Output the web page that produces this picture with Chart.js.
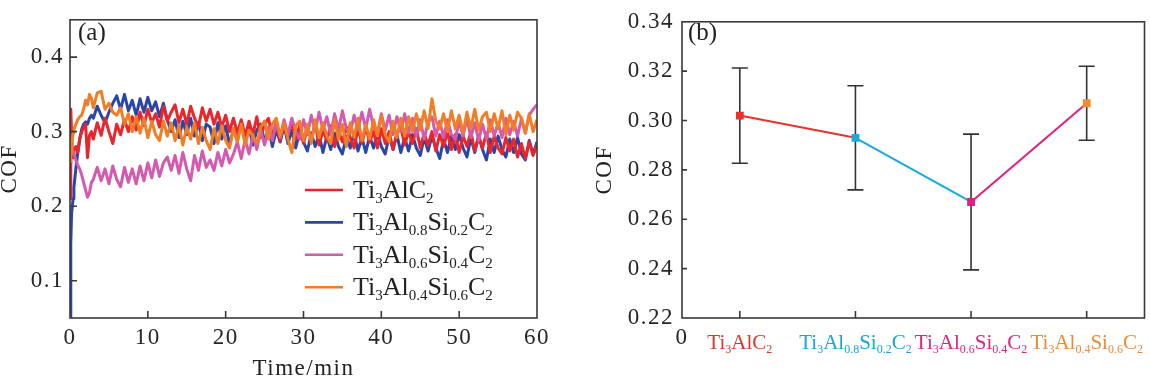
<!DOCTYPE html>
<html><head><meta charset="utf-8">
<script src="https://cdn.jsdelivr.net/npm/chart.js@4.4.1/dist/chart.umd.min.js"></script>
<style>
html,body{margin:0;padding:0;background:#fff;}
#wrap{position:relative;width:1150px;height:379px;overflow:hidden;background:#fff;}
#c1{position:absolute;left:0;top:0;}
#c2{position:absolute;left:575px;top:0;}
</style></head><body>
<div id="wrap"><canvas id="c1" width="575" height="379"></canvas><canvas id="c2" width="575" height="379"></canvas></div>
<script>
// ---------- (a) COF vs time ----------
const timeMin = [0,0.1,0.2,0.3,0.4,0.5,0.75,1,1.25,1.5,1.75,2,2.25,2.5,2.75,
 3,3.5,4,4.5,5,5.5,6,6.5,7,7.5,
 8,8.5,9,9.5,10,10.5,11,11.5,12,12.5,
 13,13.5,14,14.5,15,15.5,16,16.5,17,17.5,
 18,18.5,19,19.5,20,20.5,21,21.5,22,22.5,
 23,23.5,24,24.5,25,25.5,26,26.5,27,27.5,
 28,28.5,29,29.5,30,30.5,31,31.5,32,32.5,
 33,33.5,34,34.5,35,35.5,36,36.5,37,37.5,
 38,38.5,39,39.5,40,40.5,41,41.5,42,42.5,
 43,43.5,44,44.5,45,45.5,46,46.5,47,47.5,
 48,48.5,49,49.5,50,50.5,51,51.5,52,52.5,
 53,53.5,54,54.5,55,55.5,56,56.5,57,57.5,
 58,58.5,59,59.5,60];

const cofTi3AlC2 = [0.21,0.33,0.30,0.27,0.265,0.275,0.28,0.272,0.29,0.30,0.305,0.31,0.265,0.295,0.30,
 0.290,0.312,0.295,0.318,0.300,0.284,0.310,0.296,0.316,0.300,
 0.320,0.302,0.326,0.308,0.330,0.312,0.324,0.306,0.334,0.314,
 0.326,0.336,0.312,0.330,0.310,0.334,0.318,0.306,0.332,0.314,
 0.330,0.310,0.326,0.306,0.322,0.300,0.318,0.298,0.316,0.294,
 0.314,0.296,0.320,0.292,0.310,0.318,0.294,0.312,0.288,0.308,
 0.294,0.314,0.290,0.308,0.284,0.306,0.290,0.312,0.282,0.302,
 0.288,0.308,0.280,0.302,0.286,0.306,0.292,0.278,0.304,0.284,
 0.306,0.286,0.300,0.278,0.304,0.284,0.300,0.276,0.298,0.306,
 0.282,0.300,0.284,0.304,0.278,0.298,0.282,0.300,0.274,0.296,
 0.280,0.300,0.276,0.296,0.272,0.294,0.280,0.300,0.274,0.294,
 0.278,0.298,0.272,0.294,0.278,0.270,0.292,0.274,0.290,0.266,
 0.284,0.264,0.286,0.268,0.282];

const cofAl08Si02 = [0.05,0.15,0.19,0.20,0.21,0.225,0.25,0.272,0.29,0.303,0.31,0.313,0.31,0.318,0.322,
 0.318,0.334,0.322,0.312,0.326,0.338,0.348,0.330,0.350,0.328,
 0.342,0.322,0.344,0.326,0.346,0.328,0.340,0.320,0.338,0.316,
 0.300,0.316,0.292,0.314,0.296,0.318,0.294,0.312,0.288,0.310,
 0.306,0.284,0.312,0.290,0.308,0.282,0.304,0.288,0.312,0.290,
 0.306,0.282,0.302,0.310,0.286,0.304,0.280,0.302,0.286,0.308,
 0.284,0.302,0.278,0.300,0.286,0.274,0.298,0.280,0.296,0.272,
 0.294,0.276,0.298,0.280,0.270,0.294,0.278,0.298,0.274,0.292,
 0.272,0.294,0.278,0.298,0.280,0.270,0.294,0.276,0.296,0.272,
 0.292,0.274,0.296,0.278,0.268,0.292,0.274,0.294,0.278,0.264,
 0.290,0.272,0.294,0.276,0.296,0.278,0.266,0.292,0.272,0.294,
 0.276,0.262,0.290,0.272,0.294,0.276,0.266,0.290,0.272,0.292,
 0.270,0.262,0.288,0.270,0.286];

const cofAl06Si04 = [0.27,0.29,0.28,0.275,0.272,0.27,0.262,0.255,0.25,0.242,0.232,0.222,0.212,0.218,0.232,
 0.236,0.252,0.234,0.250,0.230,0.254,0.236,0.226,0.252,0.232,
 0.250,0.230,0.254,0.234,0.258,0.238,0.262,0.240,0.258,0.266,
 0.248,0.268,0.244,0.272,0.250,0.234,0.268,0.248,0.274,0.252,
 0.262,0.248,0.272,0.254,0.276,0.258,0.270,0.286,0.264,0.290,
 0.270,0.296,0.276,0.302,0.282,0.306,0.288,0.312,0.292,0.316,
 0.296,0.318,0.300,0.290,0.316,0.296,0.322,0.300,0.326,0.302,
 0.320,0.296,0.324,0.302,0.328,0.304,0.298,0.322,0.302,0.326,
 0.304,0.330,0.306,0.298,0.324,0.302,0.322,0.296,0.320,0.300,
 0.324,0.298,0.318,0.294,0.316,0.290,0.312,0.320,0.294,0.314,
 0.292,0.316,0.296,0.290,0.314,0.294,0.318,0.292,0.312,0.288,
 0.310,0.290,0.316,0.294,0.312,0.292,0.318,0.296,0.314,0.294,
 0.318,0.298,0.322,0.330,0.336];

const cofAl04Si06 = [0.26,0.285,0.27,0.29,0.298,0.303,0.31,0.316,0.32,0.322,0.33,0.342,0.336,0.35,0.345,
 0.332,0.352,0.354,0.330,0.338,0.326,0.322,0.332,0.310,0.324,
 0.300,0.320,0.298,0.318,0.292,0.314,0.296,0.288,0.314,0.294,
 0.312,0.288,0.308,0.282,0.306,0.290,0.312,0.284,0.306,0.288,
 0.276,0.304,0.284,0.308,0.288,0.278,0.304,0.286,0.310,0.282,
 0.302,0.294,0.284,0.306,0.314,0.290,0.310,0.318,0.294,0.312,
 0.290,0.272,0.308,0.314,0.288,0.310,0.284,0.316,0.292,0.312,
 0.294,0.284,0.316,0.290,0.310,0.280,0.312,0.292,0.318,0.288,
 0.310,0.290,0.316,0.294,0.322,0.296,0.286,0.314,0.292,0.318,
 0.294,0.320,0.300,0.324,0.302,0.328,0.304,0.344,0.314,0.304,
 0.324,0.300,0.328,0.304,0.322,0.298,0.326,0.304,0.330,0.302,
 0.320,0.326,0.300,0.324,0.304,0.328,0.296,0.322,0.302,0.326,
 0.318,0.298,0.324,0.300,0.316];

const seriesNames = ['Ti_{3}AlC_{2}','Ti_{3}Al_{0.8}Si_{0.2}C_{2}','Ti_{3}Al_{0.6}Si_{0.4}C_{2}','Ti_{3}Al_{0.4}Si_{0.6}C_{2}'];
const seriesValues = [cofTi3AlC2, cofAl08Si02, cofAl06Si04, cofAl04Si06];
const seriesColors = ['#e8262c','#2b46a8','#d35aae','#f27d24'];
const seriesDrawOrder = [2,3,1,0]; // lower = drawn on top
const leftXTicks = [0,10,20,30,40,50,60];
const leftYTicks = [0.1,0.2,0.3,0.4];

// ---------- (b) mean COF ----------
const categories = ['Ti_{3}AlC_{2}','Ti_{3}Al_{0.8}Si_{0.2}C_{2}','Ti_{3}Al_{0.6}Si_{0.4}C_{2}','Ti_{3}Al_{0.4}Si_{0.6}C_{2}'];
const cofMean = [0.302, 0.293, 0.267, 0.307];
const cofError = [0.0193, 0.0211, 0.0275, 0.0150];
const categoryColors = ['#e8332b','#1aa8e0','#e0207e','#f28a2e'];
const labelColors = ['#d9372c','#1ba4dc','#d6287c','#ec8b38'];
const rightYTicks = [0.22,0.24,0.26,0.28,0.30,0.32,0.34];
const rightXTicks = [0,0.5,1.5,2.5,3.5];

const SERIF = '"Liberation Serif","Times New Roman",serif';
const TICK_COLOR = '#262626';

function parseChem(s){
  const parts=[]; const re=/_\{([^}]*)\}/g; let last=0, m;
  while((m=re.exec(s))){ if(m.index>last) parts.push({t:s.slice(last,m.index),sub:false}); parts.push({t:m[1],sub:true}); last=re.lastIndex; }
  if(last<s.length) parts.push({t:s.slice(last),sub:false});
  return parts;
}
function drawChem(ctx, s, x, y, size, subSize, color, align){
  ctx.save();
  ctx.letterSpacing='0px';
  ctx.fillStyle=color; ctx.textBaseline='alphabetic'; ctx.textAlign='left';
  const parts=parseChem(s); let w=0;
  for(const p of parts){ ctx.font=(p.sub?subSize:size)+'px '+SERIF; p.w=ctx.measureText(p.t).width; w+=p.w; }
  let cx = align==='center' ? x-w/2 : x;
  for(const p of parts){ ctx.font=(p.sub?subSize:size)+'px '+SERIF; ctx.fillText(p.t, cx, p.sub ? y+subSize*0.32 : y); cx+=p.w; }
  ctx.restore();
}
function boxAndTicks(chart, xt, yt, lenX, lenY){
  const {ctx, chartArea:a, scales:{x,y}} = chart;
  ctx.save();
  ctx.strokeStyle='#3a3a3a'; ctx.lineWidth=1.6;
  ctx.strokeRect(a.left, a.top, a.right-a.left, a.bottom-a.top);
  ctx.beginPath();
  for(const v of yt){ const py=y.getPixelForValue(v); if(py>a.top+2 && py<a.bottom-2){ ctx.moveTo(a.left,py); ctx.lineTo(a.left+lenY,py);} }
  for(const v of xt){ const px=x.getPixelForValue(v); if(px>a.left+2 && px<a.right-2){ ctx.moveTo(px,a.bottom); ctx.lineTo(px,a.bottom-lenX);} }
  ctx.stroke();
  ctx.restore();
}
function panelLabel(ctx, txt, x, y){
  ctx.save(); ctx.letterSpacing='0px'; ctx.font='25px '+SERIF; ctx.fillStyle='#222';
  ctx.textBaseline='alphabetic'; ctx.textAlign='left'; ctx.fillText(txt,x,y); ctx.restore();
}

const leftPlugin = {
  id:'leftDeco',
  beforeDraw(chart){ chart.ctx.letterSpacing='1.5px'; },
  afterDatasetsDraw(chart){
    const ctx=chart.ctx;
    boxAndTicks(chart, leftXTicks, leftYTicks, 7, 7);
    panelLabel(ctx,'(a)',78,40);
    ctx.save();
    seriesNames.forEach((n,i)=>{
      const ly = 190 + i*32.4;
      ctx.strokeStyle=seriesColors[i]; ctx.lineWidth=2.6;
      ctx.beginPath(); ctx.moveTo(305,ly); ctx.lineTo(343,ly); ctx.stroke();
      drawChem(ctx, n, 353, ly+8, 26, 15, '#222', 'left');
    });
    ctx.restore();
  }
};

const rightPlugin = {
  id:'rightDeco',
  beforeDraw(chart){ chart.ctx.letterSpacing='1.5px'; },
  beforeDatasetsDraw(chart){
    const {ctx, scales:{x,y}} = chart;
    ctx.save(); ctx.strokeStyle='#333'; ctx.lineWidth=1.6;
    cofMean.forEach((m,i)=>{
      const px=x.getPixelForValue(i+0.5);
      const top=y.getPixelForValue(m+cofError[i]), bot=y.getPixelForValue(m-cofError[i]);
      ctx.beginPath();
      ctx.moveTo(px,top); ctx.lineTo(px,bot);
      ctx.moveTo(px-8,top); ctx.lineTo(px+8,top);
      ctx.moveTo(px-8,bot); ctx.lineTo(px+8,bot);
      ctx.stroke();
    });
    ctx.restore();
  },
  afterDatasetsDraw(chart){
    const {ctx, scales:{x}} = chart;
    boxAndTicks(chart, rightXTicks, rightYTicks, 7, 5);
    panelLabel(ctx,'(b)',113,40);
    categories.forEach((c,i)=>{
      drawChem(ctx, c, x.getPixelForValue(i+0.5), 349, 21, 12, labelColors[i], 'center');
    });
  }
};

const tickFont = {family:SERIF, size:23};
const titleFont = {family:SERIF, size:23, lineHeight:0.9};

new Chart(document.getElementById('c1'), {
  type:'line',
  data:{ datasets: seriesValues.map((vals,i)=>({
    label: seriesNames[i],
    data: vals.map((v,k)=>({x:timeMin[k], y:v})),
    borderColor: seriesColors[i], backgroundColor: seriesColors[i],
    borderWidth: 3, pointRadius: 0, tension: 0, fill:false,
    borderJoinStyle:'round',
    order: seriesDrawOrder[i]
  }))},
  options:{
    responsive:false, animation:false, devicePixelRatio:1,
    layout:{padding:{left:0, top:10, right:38, bottom:0}},
    plugins:{legend:{display:false}, tooltip:{enabled:false}},
    scales:{
      x:{ type:'linear', min:0, max:60,
        afterBuildTicks:s=>{ s.ticks = leftXTicks.map(v=>({value:v})); },
        afterFit:s=>{ s.height=61; },
        grid:{display:false, drawTicks:false}, border:{display:false},
        ticks:{ font:tickFont, color:TICK_COLOR, padding:6, autoSkip:false, maxRotation:0, callback:v=>String(v) },
        title:{ display:true, text:'Time/min', font:titleFont, color:'#222', padding:0 }
      },
      y:{ type:'linear', min:0.05, max:0.45,
        afterBuildTicks:s=>{ s.ticks = leftYTicks.map(v=>({value:v})); },
        afterFit:s=>{ s.width=70; },
        grid:{display:false, drawTicks:false}, border:{display:false},
        ticks:{ font:tickFont, color:TICK_COLOR, padding:6, callback:v=>Number(v).toFixed(1) },
        title:{ display:true, text:'COF', font:titleFont, color:'#222', padding:0 }
      }
    }
  },
  plugins:[leftPlugin]
});

new Chart(document.getElementById('c2'), {
  type:'line',
  data:{ datasets:[{
    label:'COF',
    data: cofMean.map((v,i)=>({x:i+0.5, y:v})),
    borderWidth:2, tension:0, fill:false,
    borderColor: categoryColors[0],
    segment:{ borderColor: c => categoryColors[c.p0DataIndex] },
    pointStyle:'rect', pointRadius:5.5, pointBorderWidth:0,
    pointBackgroundColor: categoryColors, pointBorderColor: categoryColors
  }]},
  options:{
    responsive:false, animation:false, devicePixelRatio:1,
    layout:{padding:{left:0, top:10, right:2, bottom:0}},
    plugins:{legend:{display:false}, tooltip:{enabled:false}},
    scales:{
      x:{ type:'linear', min:0, max:4,
        afterBuildTicks:s=>{ s.ticks = rightXTicks.map(v=>({value:v})); },
        afterFit:s=>{ s.height=61; },
        grid:{display:false, drawTicks:false}, border:{display:false},
        ticks:{ font:tickFont, color:TICK_COLOR, padding:6, autoSkip:false, maxRotation:0, callback:v=> v===0 ? '0' : '' }
      },
      y:{ type:'linear', min:0.22, max:0.34,
        afterBuildTicks:s=>{ s.ticks = rightYTicks.map(v=>({value:v})); },
        afterFit:s=>{ s.width=107; },
        grid:{display:false, drawTicks:false}, border:{display:false},
        ticks:{ font:tickFont, color:TICK_COLOR, padding:8, callback:v=>Number(v).toFixed(2) },
        title:{ display:true, text:'COF', font:titleFont, color:'#222', padding:{top:20,bottom:0} }
      }
    }
  },
  plugins:[rightPlugin]
});
</script>
</body></html>
